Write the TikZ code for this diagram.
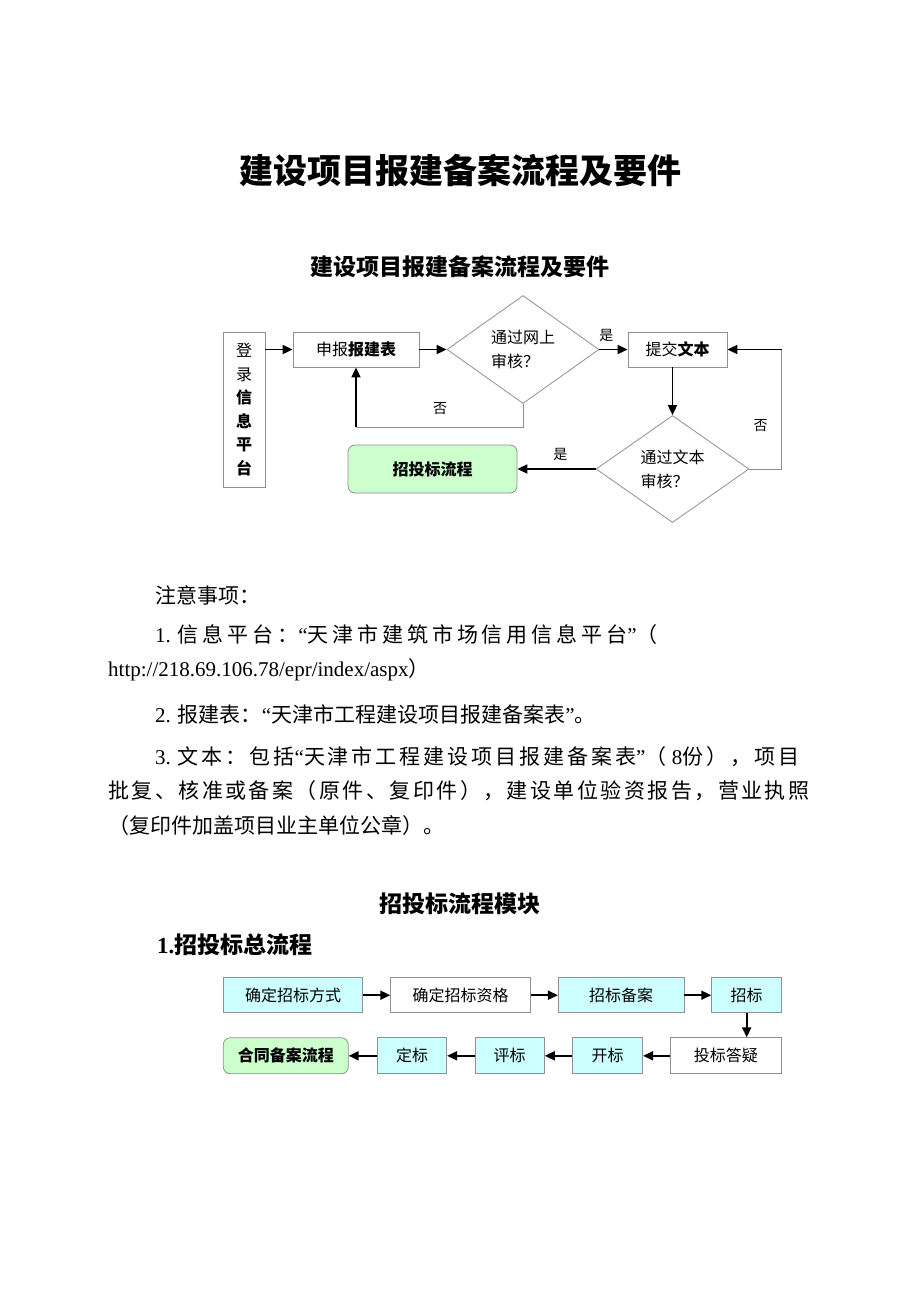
\documentclass[tikz,border=0pt]{standalone}
\usepackage{fontspec}
\setmainfont{Liberation Serif}
\newfontfamily\cjk{Noto Sans CJK SC}
\usepackage{tikz}
\usetikzlibrary{positioning,arrows.meta,shapes.geometric}
\definecolor{boxgray}{HTML}{909090}
\definecolor{lcyan}{HTML}{CCFFFF}
\definecolor{lgreen}{HTML}{CCFFCC}
\newcommand\lat[1]{{\rmfamily #1}}

\begin{document}
\begin{tikzpicture}[x=1pt,y=-1pt,
  box/.style={draw=boxgray, line width=0.8pt, inner sep=0pt, font=\cjk\fontsize{16}{20}\selectfont},
  cyanbox/.style={box, fill=lcyan},
  greenbox/.style={box, fill=lgreen, rounded corners=7pt},
  decide/.style={box, diamond, align=left, font=\cjk\fontsize{16}{24}\selectfont},
  arr/.style={-{Triangle[length=10pt,width=9pt]}, line width=1.8pt},
  back/.style={draw=boxgray, line width=0.8pt},
  tag/.style={font=\cjk\fontsize{14}{16}\selectfont, inner sep=0pt},
  note/.style={anchor=west, inner sep=0pt, font=\cjk\fontsize{21}{25}\selectfont},
  head/.style={inner sep=0pt, font=\cjk\bfseries\fontsize{23}{28}\selectfont}]
\fill[white] (0,0) rectangle (920,1302);
\useasboundingbox (0,0) rectangle (920,1302);

% titles
\node[head, font=\cjk\bfseries\fontsize{34}{40}\selectfont] (title) at (460,170) {建设项目报建备案流程及要件};
\node[head] (subtitle) at (460,267) {建设项目报建备案流程及要件};

% flow 1
\node[box, minimum width=42pt, minimum height=155pt, align=center, font=\cjk\fontsize{16}{23.6}\selectfont] (login) at (244,409.5)
    {登\\录\\\textbf{信}\\\textbf{息}\\\textbf{平}\\\textbf{台}};
\node[box, minimum width=126pt, minimum height=35pt] (apply) at (356,349.5) {申报\textbf{报建表}};
\node[decide, minimum width=152pt, minimum height=108pt] (check1) at (523,349.5) {通过网上\\审核？};
\node[box, minimum width=99pt, minimum height=35pt] (submit) at (677.5,349.5) {提交\textbf{文本}};
\node[decide, minimum width=153pt, minimum height=107pt] (check2) at (672.5,469) {通过文本\\审核？};
\node[greenbox, minimum width=169pt, minimum height=48pt, font=\cjk\bfseries\fontsize{16}{20}\selectfont] (bidflow) at (432.5,469) {招投标流程};
\coordinate (n1) at (356,427);
\coordinate (n2) at (781.5,349.5);
\node[tag] (no1) at (440,409) {否};
\node[tag] (no2) at (760.5,426) {否};

\draw[arr] (login.east |- apply.west) -- (apply.west);
\draw[arr] (apply.east) -- (check1.west);
\draw[arr] (check1.east) -- node[tag, above=7pt, pos=0.25] (yes1) {是} (submit.west);
\draw[arr] (check2.north |- submit.south) -- (check2.north);
\draw[back] (check1.south) |- (n1);
\draw[arr] (n1) -- (apply.south);
\draw[back] (check2.east) -| (n2);
\draw[arr] (n2) -- (submit.east);
\draw[arr] (check2.west) -- node[tag, above=7pt, pos=0.45] (yes2) {是} (bidflow.east);

% notes
\node[note] (attn) at (155,595) {注意事项：};
\node[note] (item1) at (155,635) {\addfontfeatures{LetterSpace=18.5}\lat{1. }信息平台：\lat{“}天津市建筑市场信用信息平台\lat{”}（};
\node[note] (url) at (108,670) {\lat{http://218.69.106.78/epr/index/aspx}）};
\node[note] (item2) at (155,714) {\lat{2. }报建表：\lat{“}天津市工程建设项目报建备案表\lat{”}。};
\node[note] (item3) at (155,757) {\addfontfeatures{LetterSpace=14}\lat{3. }文本：包括\lat{“}天津市工程建设项目报建备案表\lat{”}（\lat{~8}份），项目};
\node[note] (item3b) at (108,791) {\addfontfeatures{LetterSpace=11.7}批复、核准或备案（原件、复印件），建设单位验资报告，营业执照};
\node[note] (item3c) at (108,826) {（复印件加盖项目业主单位公章）。};

% flow 2
\node[head] (module) at (460,904) {招投标流程模块};
\node[head, anchor=west] (overall) at (157,945) {\lat{\bfseries 1.}招投标总流程};

\node[cyanbox, minimum width=139.4pt, minimum height=35pt] (m1) at (293,995.2) {确定招标方式};
\node[box, minimum width=140pt, minimum height=35pt] (m2) at (460.7,995.2) {确定招标资格};
\node[cyanbox, minimum width=125.7pt, minimum height=35pt] (m3) at (621.2,995.2) {招标备案};
\node[cyanbox, minimum width=70pt, minimum height=35pt] (m4) at (746.7,995.2) {招标};
\node[box, minimum width=111.7pt, minimum height=36pt] (m5) at (725.8,1055.8) {投标答疑};
\node[cyanbox, minimum width=70pt, minimum height=36pt] (m6) at (607.7,1055.8) {开标};
\node[cyanbox, minimum width=69.3pt, minimum height=36pt] (m7) at (509.7,1055.8) {评标};
\node[cyanbox, minimum width=69.4pt, minimum height=36pt] (m8) at (412,1055.8) {定标};
\node[greenbox, minimum width=125pt, minimum height=36pt, font=\cjk\bfseries\fontsize{16}{20}\selectfont] (m9) at (285.8,1055.8) {合同备案流程};

\draw[arr] (m1) -- (m2);
\draw[arr] (m2) -- (m3);
\draw[arr] (m3) -- (m4);
\draw[arr] (m4.south) -- (m4.south |- m5.north);
\draw[arr] (m5) -- (m6);
\draw[arr] (m6) -- (m7);
\draw[arr] (m7) -- (m8);
\draw[arr] (m8) -- (m9);
\end{tikzpicture}
\end{document}
